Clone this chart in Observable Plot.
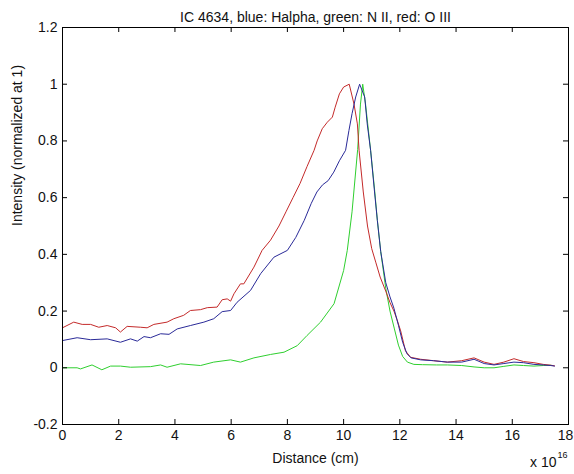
<!DOCTYPE html>
<html>
<head>
<meta charset="utf-8">
<script src="https://cdn.jsdelivr.net/npm/d3@7"></script>
<script src="https://cdn.jsdelivr.net/npm/@observablehq/plot@0.6"></script>
<style>
  html, body { margin: 0; padding: 0; background: #fff; }
  svg { display: block; }
</style>
</head>
<body>
<div id="chart"></div>
<script>
// ---- data (distance in units of 1e16 cm, intensity normalized at 1) ----
const titleText = "IC 4634, blue: Halpha, green: N II, red: O III";
const xLabel = "Distance (cm)";
const yLabel = "Intensity (normalized at 1)";
const xTicks = [0, 2, 4, 6, 8, 10, 12, 14, 16, 18];
const yTicks = [-0.2, 0, 0.2, 0.4, 0.6, 0.8, 1, 1.2];
const xExponentBase = "x 10";
const xExponent = "16";

// red: O III
const redX = [0, 0.4, 0.7, 1.0, 1.29, 1.59, 1.89, 2.06, 2.3, 2.78, 3.01, 3.25, 3.72, 3.96, 4.31, 4.55, 4.91, 5.15, 5.5, 5.68, 5.86, 5.98, 6.1, 6.33, 6.45, 6.81, 7.1,
  7.4, 7.7, 7.95, 8.2, 8.45, 8.7, 8.95, 9.06, 9.24, 9.42, 9.6, 9.7, 9.85, 10.0, 10.2, 10.37, 10.49, 10.55, 10.7, 10.85, 11.0, 11.15, 11.3, 11.5, 11.65, 11.79, 11.9, 12.03, 12.2, 12.38, 12.74,
  13.2, 13.69, 14.2, 14.64, 15.0, 15.35, 15.7, 16.06, 16.4, 16.77, 17.1, 17.37, 17.5];
const redY = [0.141, 0.161, 0.153, 0.153, 0.143, 0.149, 0.141, 0.126, 0.146, 0.143, 0.141, 0.153, 0.161, 0.173, 0.185, 0.202, 0.205, 0.212, 0.214, 0.24, 0.243, 0.235, 0.261, 0.296, 0.296, 0.355, 0.414,
  0.45, 0.5, 0.55, 0.6, 0.65, 0.71, 0.767, 0.80, 0.843, 0.866, 0.884, 0.919, 0.966, 0.99, 1.0, 0.93, 0.86, 0.767, 0.62, 0.5, 0.42, 0.37, 0.32, 0.27, 0.23, 0.2, 0.17, 0.13, 0.06, 0.037, 0.03,
  0.025, 0.02, 0.025, 0.035, 0.02, 0.012, 0.02, 0.032, 0.022, 0.018, 0.012, 0.009, 0.007];

// blue: Halpha
const blueX = [0, 0.52, 1.0, 1.59, 2.06, 2.42, 2.66, 2.9, 3.13, 3.49, 3.79, 4.08, 4.55, 5.03, 5.38, 5.68, 5.98, 6.21, 6.69, 7.05, 7.52, 8.0,
  8.3, 8.6, 8.85, 9.05, 9.25, 9.45, 9.65, 9.85, 10.07, 10.19, 10.3, 10.43, 10.57, 10.75, 10.84, 10.96, 11.1, 11.2, 11.32, 11.5, 11.65, 11.79, 11.95, 12.1, 12.25, 12.4, 12.74,
  13.2, 13.69, 14.2, 14.64, 15.0, 15.35, 15.7, 16.06, 16.4, 16.77, 17.1, 17.37, 17.5];
const blueY = [0.096, 0.106, 0.099, 0.102, 0.09, 0.102, 0.094, 0.11, 0.106, 0.12, 0.118, 0.137, 0.149, 0.161, 0.173, 0.198, 0.202, 0.231, 0.273, 0.332, 0.39, 0.414,
  0.46, 0.52, 0.58, 0.62, 0.645, 0.66, 0.69, 0.73, 0.767, 0.837, 0.896, 0.955, 1.0, 0.955, 0.86, 0.767, 0.62, 0.52, 0.41, 0.3, 0.25, 0.21, 0.15, 0.09, 0.05, 0.035, 0.028,
  0.025, 0.02, 0.02, 0.03, 0.015, 0.01, 0.015, 0.02, 0.018, 0.012, 0.01, 0.008, 0.006];

// green: N II
const greenX = [0, 0.52, 0.64, 1.05, 1.4, 1.71, 2.06, 2.42, 3.13, 3.49, 3.72, 4.2, 4.91, 5.38, 5.98, 6.33, 6.81, 7.4, 7.88, 8.35, 8.7, 9.18, 9.66, 10.0, 10.13,
  10.3, 10.5, 10.6, 10.68, 10.78, 10.96, 11.1, 11.2, 11.32, 11.5, 11.65, 11.8, 11.95, 12.1, 12.27, 12.5, 12.8,
  13.3, 13.69, 14.2, 14.64, 15.0, 15.35, 15.7, 16.06, 16.4, 16.77, 17.1, 17.37];
const greenY = [0.0, 0.0, -0.004, 0.01, -0.007, 0.006, 0.006, 0.002, 0.004, 0.01, 0.002, 0.014, 0.008, 0.02, 0.028, 0.02, 0.035, 0.047, 0.055, 0.078, 0.114, 0.161, 0.226, 0.343, 0.414,
  0.55, 0.77, 0.93, 1.0, 0.93, 0.767, 0.63, 0.52, 0.41, 0.28, 0.2, 0.14, 0.08, 0.04, 0.02, 0.012, 0.011,
  0.01, 0.01, 0.008, 0.003, 0.0, 0.0, 0.005, 0.01, 0.008, 0.006, 0.008, 0.009];

const seriesColors = { red: "#c42a2a", blue: "#2a2a98", green: "#2fcf2f" };

// ---- build rows ----
const toRows = (xs, ys) => xs.map((x, i) => ({ x, y: ys[i] }));
const redRows = toRows(redX, redY);
const blueRows = toRows(blueX, blueY);
const greenRows = toRows(greenX, greenY);

const W = 574, H = 474;
const mL = 62, mR = 6, mT = 27, mB = 50;
const FW = W - mL - mR, FH = H - mT - mB;
const TL = 5; // inward tick length
const fmt = d => String(+d.toFixed(1));
const lastX = xTicks[xTicks.length - 1];

const chart = Plot.plot({
  width: W,
  height: H,
  marginLeft: mL,
  marginRight: mR,
  marginTop: mT,
  marginBottom: mB,
  x: { domain: [xTicks[0], lastX] },
  y: { domain: [yTicks[0], yTicks[yTicks.length - 1]] },
  style: { fontFamily: "'Liberation Sans', Arial, sans-serif", fontSize: "14px", background: "#fff", color: "#111" },
  marks: [
    Plot.line(greenRows, { x: "x", y: "y", stroke: seriesColors.green, strokeWidth: 1 }),
    Plot.line(redRows, { x: "x", y: "y", stroke: seriesColors.red, strokeWidth: 1 }),
    Plot.line(blueRows, { x: "x", y: "y", stroke: seriesColors.blue, strokeWidth: 1 }),
    Plot.frame({ stroke: "#000", strokeWidth: 1 }),
    Plot.tickX(xTicks, { x: d => d, insetTop: FH - TL, stroke: "#000" }),
    Plot.tickX(xTicks, { x: d => d, insetBottom: FH - TL, stroke: "#000" }),
    Plot.tickY(yTicks, { y: d => d, insetRight: FW - TL, stroke: "#000" }),
    Plot.tickY(yTicks, { y: d => d, insetLeft: FW - TL, stroke: "#000" }),
    Plot.axisX(xTicks.slice(0, -1), { tickSize: 0, tickPadding: 6, tickFormat: fmt, label: null, fontSize: 14 }),
    Plot.axisX([lastX], { tickSize: 0, tickPadding: 6, tickFormat: fmt, label: null, fontSize: 14, dx: -3 }),
    Plot.axisY(yTicks, { tickSize: 0, tickPadding: 5, tickFormat: fmt, label: null, fontSize: 14 }),
    Plot.text([titleText], { frameAnchor: "top", dy: -15, fontSize: 14 }),
    Plot.text([xLabel], { frameAnchor: "bottom", dy: 38, fontSize: 14 }),
    Plot.text([yLabel], { frameAnchor: "left", dx: -45, rotate: -90, fontSize: 14 }),
    Plot.text([xExponentBase], { frameAnchor: "bottom-right", dx: -12, dy: 42, textAnchor: "end", fontSize: 14 }),
    Plot.text([xExponent], { frameAnchor: "bottom-right", dx: -11, dy: 33, textAnchor: "start", fontSize: 9 })
  ]
});
document.getElementById("chart").append(chart);
</script>
</body>
</html>
